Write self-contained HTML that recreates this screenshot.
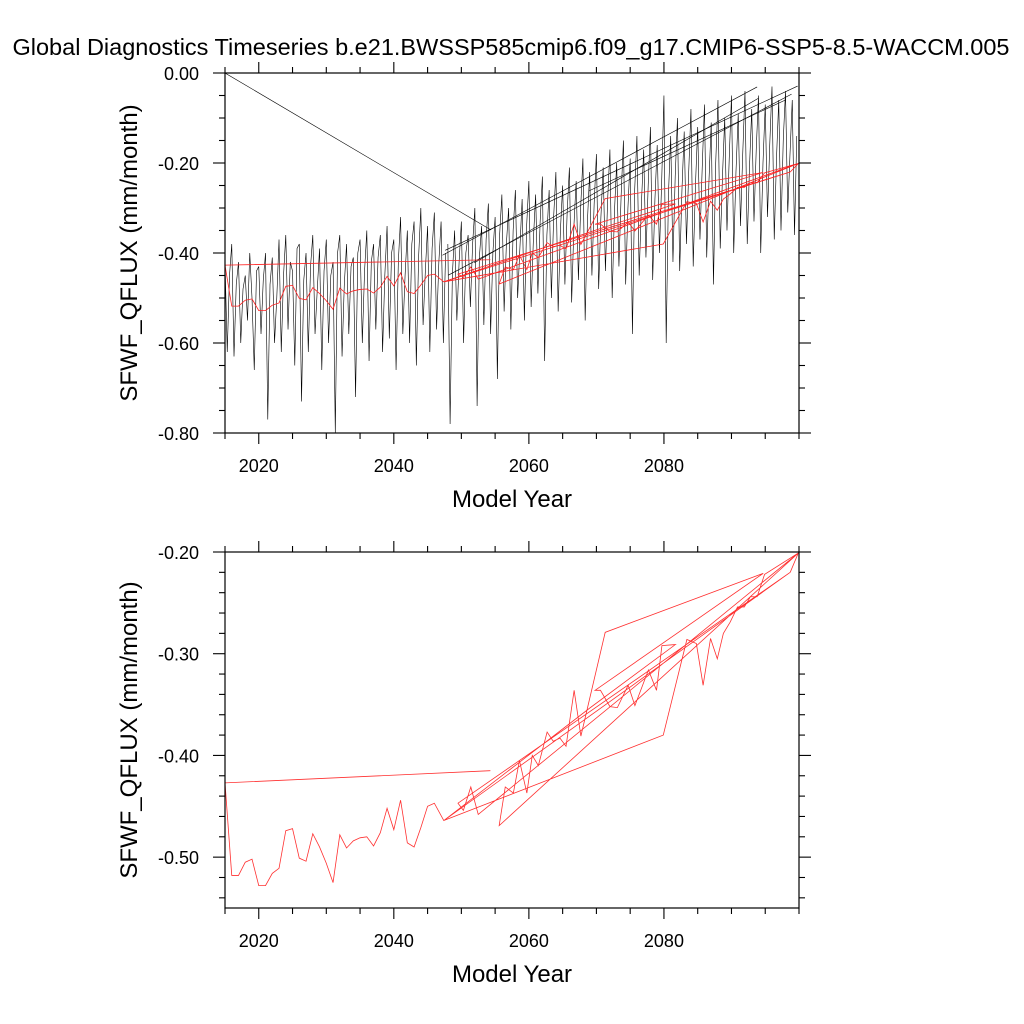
<!DOCTYPE html>
<html><head><meta charset="utf-8"><style>
html,body{margin:0;padding:0;background:#fff;}
svg{display:block;font-family:"Liberation Sans",Arial,sans-serif;}
</style></head><body>
<svg id="chart" width="1024" height="1024" viewBox="0 0 1024 1024" xmlns="http://www.w3.org/2000/svg">
<text x="511" y="55" font-size="23.5" text-anchor="middle">Global Diagnostics Timeseries b.e21.BWSSP585cmip6.f09_g17.CMIP6-SSP5-8.5-WACCM.005</text>
<g id="top"></g>
<g id="bot"></g>
</svg>
<script>
// ---- data ----
const xTickYears = [2020, 2040, 2060, 2080];
const topYTicks = [0, -0.2, -0.4, -0.6, -0.8];
const topYLabels = ["0.00", "-0.20", "-0.40", "-0.60", "-0.80"];
const botYTicks = [-0.2, -0.3, -0.4, -0.5];
const botYLabels = ["-0.20", "-0.30", "-0.40", "-0.50"];

// black monthly-ish series, segment 1 (2015-2048), 3 samples per year
const blackSeg1Start = 2015;
const blackSeg1Values = [
-0.42,-0.62,-0.45,-0.38,-0.63,-0.47,-0.42,-0.60,-0.48,-0.45,-0.55,-0.40,-0.50,-0.66,-0.44,
-0.43,-0.58,-0.46,-0.40,-0.77,-0.47,-0.41,-0.60,-0.50,-0.37,-0.62,-0.45,-0.36,-0.57,-0.42,
-0.44,-0.65,-0.39,-0.38,-0.73,-0.46,-0.40,-0.62,-0.43,-0.36,-0.58,-0.48,-0.39,-0.66,-0.44,
-0.37,-0.60,-0.45,-0.42,-0.80,-0.40,-0.36,-0.63,-0.47,-0.38,-0.58,-0.43,-0.41,-0.72,-0.40,
-0.37,-0.60,-0.44,-0.35,-0.64,-0.42,-0.38,-0.57,-0.41,-0.36,-0.62,-0.45,-0.34,-0.59,-0.40,
-0.37,-0.66,-0.42,-0.32,-0.58,-0.45,-0.35,-0.60,-0.38,-0.33,-0.65,-0.41,-0.30,-0.56,-0.44,
-0.34,-0.62,-0.39,-0.31,-0.57,-0.42,-0.33,-0.60,-0.40];
// segment 2 (2048-2100)
const blackSeg2Start = 2048;
const blackSeg2Values = [
-0.38,-0.78,-0.45,-0.35,-0.55,-0.42,-0.33,-0.60,-0.40,-0.36,-0.52,-0.38,-0.30,-0.74,-0.41,
-0.34,-0.56,-0.37,-0.29,-0.58,-0.40,-0.32,-0.68,-0.36,-0.27,-0.53,-0.38,-0.30,-0.57,-0.35,
-0.26,-0.50,-0.39,-0.28,-0.55,-0.34,-0.24,-0.52,-0.37,-0.27,-0.49,-0.33,-0.23,-0.64,-0.36,
-0.26,-0.50,-0.32,-0.22,-0.53,-0.35,-0.25,-0.47,-0.31,-0.21,-0.51,-0.34,-0.24,-0.46,-0.30,
-0.19,-0.55,-0.33,-0.22,-0.45,-0.29,-0.18,-0.48,-0.32,-0.21,-0.44,-0.28,-0.17,-0.50,-0.31,
-0.20,-0.43,-0.27,-0.15,-0.47,-0.30,-0.19,-0.58,-0.26,-0.14,-0.45,-0.29,-0.17,-0.41,-0.25,
-0.12,-0.46,-0.28,-0.16,-0.40,-0.24,-0.05,-0.60,-0.27,-0.14,-0.42,-0.23,-0.10,-0.44,-0.26,
-0.13,-0.38,-0.22,-0.08,-0.43,-0.25,-0.12,-0.37,-0.21,-0.07,-0.41,-0.24,-0.11,-0.47,-0.20,
-0.06,-0.39,-0.23,-0.10,-0.35,-0.19,-0.05,-0.40,-0.22,-0.09,-0.34,-0.18,-0.04,-0.38,-0.21,
-0.08,-0.33,-0.17,-0.05,-0.40,-0.20,-0.07,-0.32,-0.16,-0.03,-0.37,-0.19,-0.06,-0.35,-0.15,
-0.04,-0.31,-0.18,-0.06,-0.36,-0.14];
// black restart connector lines
const blackLinkYear1 = [2015.0, 2047.2, 2047.6, 2048.1, 2051.9, 2068.9];
const blackLinkVal1  = [0.00,  -0.405, -0.394, -0.449, -0.422, -0.262];
const blackLinkYear2 = [2054.4, 2093.8, 2099.8, 2098.9, 2094.0, 2098.0];
const blackLinkVal2  = [-0.349, -0.031, -0.029, -0.047, -0.056, -0.060];

// red annual-mean series (ordered as drawn)
const redYears = [2054.3,
2015,2016,2017,2018,2019,2020,2021,2022,2023,2024,2025,2026,2027,2028,2029,2030,2031,2032,2033,2034,2035,2036,2037,2038,2039,2040,2041,2042,2043,2044,2045,2046,
2047.4,2098.7,2049.5,2050.3,2051.4,2052.5,2099.9,
2055.6,2056.5,2057.7,2058.6,2059.7,2060.5,2061.4,2062.7,2063.6,2064.6,2065.5,2066.7,2067.7,2071.3,2094.7,
2069.8,2070.6,2072.0,2073.1,2074.7,2075.7,2077.7,2078.9,2079.7,2081.7,2069.1,2047.4,2079.9,
2083.4,2084.8,2085.8,2086.9,2087.9,2088.8,2089.8,2090.9,2091.9,2092.8,2093.8,2094.9,2099.9,2098.7];
const redValues = [-0.415,
-0.427,-0.518,-0.518,-0.505,-0.502,-0.528,-0.528,-0.516,-0.511,-0.474,-0.472,-0.501,-0.504,-0.477,-0.490,-0.506,-0.525,-0.478,-0.491,-0.484,-0.481,-0.480,-0.489,-0.476,-0.452,-0.473,-0.444,-0.486,-0.490,-0.471,-0.450,-0.447,
-0.464,-0.220,-0.447,-0.454,-0.431,-0.458,-0.201,
-0.469,-0.431,-0.437,-0.405,-0.437,-0.400,-0.410,-0.377,-0.386,-0.383,-0.391,-0.336,-0.381,-0.279,-0.221,
-0.336,-0.336,-0.352,-0.353,-0.331,-0.351,-0.316,-0.336,-0.292,-0.291,-0.353,-0.464,-0.380,
-0.286,-0.290,-0.331,-0.285,-0.305,-0.280,-0.269,-0.254,-0.254,-0.244,-0.244,-0.222,-0.201,-0.220];

// ---- drawing ----
const NS = "http://www.w3.org/2000/svg";
const X0 = 225, X1 = 799, YEAR0 = 2015, YEAR1 = 2100;
function xS(yr){ return X0 + (yr - YEAR0) * (X1 - X0) / (YEAR1 - YEAR0); }
const topY = v => 73 + (0 - v) * (433 - 73) / 0.8;
const botY = v => 552 + (-0.2 - v) * (908 - 552) / 0.35;

function mk(tag, attrs, parent){
  const e = document.createElementNS(NS, tag);
  for (const k in attrs) e.setAttribute(k, attrs[k]);
  parent.appendChild(e); return e;
}
function polyline(xs, ys, parent, color, w, name){
  let d = "";
  for (let i = 0; i < xs.length; i++) d += (i ? "L" : "M") + xs[i].toFixed(2) + "," + ys[i].toFixed(2);
  const p = mk("path", {d: d, fill: "none", stroke: color, "stroke-width": w, "stroke-linejoin": "miter"}, parent);
  
  
  return p;
}

function axes(g, yT, top, bottom, yTicks, yLabels, yMin, yMax, yMinorStep, panel){
  const fr = mk("rect", {x: X0, y: top, width: X1 - X0, height: bottom - top, fill: "none", stroke: "#000", "stroke-width": 1.2}, g);
  
  
  for (let yr = 2015; yr <= 2100; yr += 5) {
    const major = xTickYears.includes(yr);
    const L = major ? 11 : 6, x = xS(yr);
    const t1 = mk("line", {x1: x, x2: x, y1: bottom, y2: bottom + L, stroke: "#000", "stroke-width": 1.1}, g);
    
    
    const t2 = mk("line", {x1: x, x2: x, y1: top, y2: top - L, stroke: "#000", "stroke-width": 1.1}, g);
    
    
  }
  xTickYears.forEach(yr => {
    const t = mk("text", {x: xS(yr), y: bottom + 39, "font-size": 18, "text-anchor": "middle"}, g);
    t.textContent = yr;
    
    
  });
  const n = Math.round((yMax - yMin) / yMinorStep);
  for (let i = 0; i <= n; i++) {
    const v = yMin + i * yMinorStep, y = yT(v);
    const major = yTicks.some(m => Math.abs(m - v) < 1e-6);
    const L = major ? 12 : 6;
    const a = mk("line", {x1: X0 - L, x2: X0, y1: y, y2: y, stroke: "#000", "stroke-width": 1.1}, g);
    
    
    const b = mk("line", {x1: X1, x2: X1 + L, y1: y, y2: y, stroke: "#000", "stroke-width": 1.1}, g);
    
    
  }
  yTicks.forEach((v, i) => {
    const t = mk("text", {x: 199, y: yT(v) + 7, "font-size": 18, "text-anchor": "end"}, g);
    t.textContent = yLabels[i];
    
    
  });
  const xt = mk("text", {x: 512, y: bottom + 74, "font-size": 24, "text-anchor": "middle"}, g);
  xt.textContent = "Model Year";
  
  
  const cy = (top + bottom) / 2;
  const yt = mk("text", {x: 137, y: cy, "font-size": 24, "text-anchor": "middle", transform: "rotate(-90 137 " + cy + ")"}, g);
  yt.textContent = "SFWF_QFLUX (mm/month)";
  
  
}

const gT = document.getElementById("top"), gB = document.getElementById("bot");

const defs = mk("defs", {}, document.getElementById("chart"));
const c1 = mk("clipPath", {id: "clipT"}, defs); mk("rect", {x: X0, y: 73, width: X1 - X0, height: 360}, c1);
const c2 = mk("clipPath", {id: "clipB"}, defs); mk("rect", {x: X0, y: 552, width: X1 - X0, height: 356}, c2);

const dT = mk("g", {"clip-path": "url(#clipT)"}, gT);


const bx1 = blackSeg1Values.map((v, i) => xS(blackSeg1Start + i / 3));
polyline(bx1, blackSeg1Values.map(topY), dT, "#000", 0.6, "black-series-part1");
const bx2 = blackSeg2Values.map((v, i) => xS(blackSeg2Start + i / 3));
polyline(bx2, blackSeg2Values.map(topY), dT, "#000", 0.6, "black-series-part2");
blackLinkYear1.forEach((y1, i) => {
  polyline([xS(y1), xS(blackLinkYear2[i])], [topY(blackLinkVal1[i]), topY(blackLinkVal2[i])], dT, "#000", 0.6, "black-restart-line");
});
polyline(redYears.map(xS), redValues.map(topY), dT, "#ff2020", 0.8, "red-annual-series-top");

const dB = mk("g", {"clip-path": "url(#clipB)"}, gB);


polyline(redYears.map(xS), redValues.map(botY), dB, "#ff3030", 0.8, "red-annual-series-bottom");

axes(gT, topY, 73, 433, topYTicks, topYLabels, -0.8, 0, 0.05, "top");
axes(gB, botY, 552, 908, botYTicks, botYLabels, -0.54, -0.2, 0.02, "bottom");
</script>
</body></html>
